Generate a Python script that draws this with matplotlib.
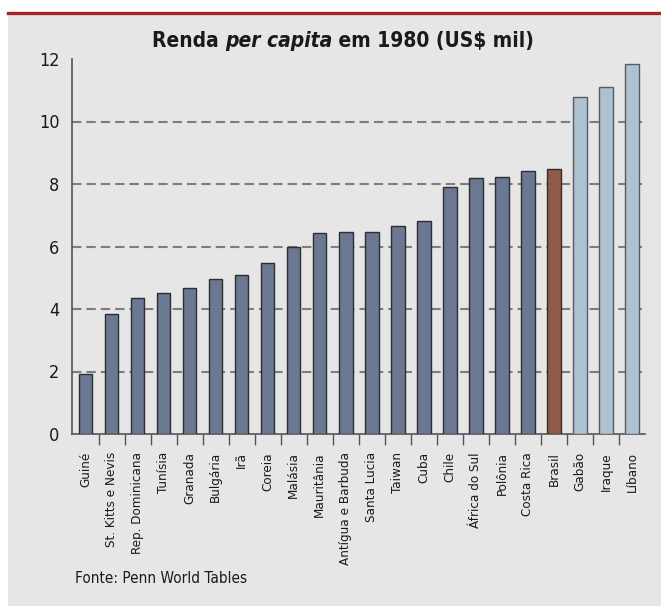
import matplotlib
matplotlib.use("Agg")
import matplotlib.pyplot as plt
from matplotlib.patches import Rectangle
from matplotlib.lines import Line2D
import numpy as np

# -- DATA -------------------------------------------------------------------------
countries = ["Guiné", "St. Kitts e Nevis", "Rep. Dominicana", "Tunísia", "Granada",
             "Bulgária", "Irã", "Coreia", "Malásia", "Mauritânia", "Antígua e Barbuda",
             "Santa Lucia", "Taiwan", "Cuba", "Chile", "África do Sul", "Polônia",
             "Costa Rica", "Brasil", "Gabão", "Iraque", "Líbano"]
income = [1.91, 3.83, 4.36, 4.50, 4.67, 4.97, 5.08, 5.47, 5.99, 6.43, 6.45,
          6.48, 6.67, 6.82, 7.90, 8.19, 8.22, 8.43, 8.49, 10.79, 11.12, 11.83]
# group: 0 = regular, 1 = Brasil, 2 = top three
group = [0] * 18 + [1] + [2, 2, 2]
yticks = [0, 2, 4, 6, 8, 10, 12]
gridlines = [2, 4, 6, 8, 10]

# -- STYLE ------------------------------------------------------------------------
plt.rcParams['font.family'] = ['DejaVu Sans']
plt.rcParams['font.stretch'] = 'condensed'
bg = "#e6e6e6"
fills = {0: "#6a7891", 1: "#8f5a47", 2: "#adc1d1"}
edges = {0: "#2e2e2e", 1: "#2e2e2e", 2: "#5a5a5a"}

W, H = 661, 606
fig = plt.figure(figsize=(W / 100, H / 100), dpi=100)
fig.patch.set_facecolor("white")

# gray panel and red rule on top
fig.patches.append(Rectangle((8 / W, 0), 1, 1 - 15 / H, transform=fig.transFigure,
                             facecolor=bg, edgecolor="none", zorder=-5))
fig.lines.append(Line2D([8 / W, 1], [1 - 13 / H, 1 - 13 / H], transform=fig.transFigure,
                        color="#a8232b", lw=2.4, zorder=-4))

ax = fig.add_axes([72 / W, 1 - 434 / H, (645 - 72) / W, (434 - 59) / H])
ax.set_facecolor(bg)

x = np.arange(len(countries))
ax.bar(x, income, width=0.52,
       color=[fills[g] for g in group],
       edgecolor=[edges[g] for g in group], linewidth=1.0, zorder=3)

for g in gridlines:
    ax.axhline(g, color="#7d7d7d", lw=1.5, linestyle=(0, (4.5, 2.4)), zorder=1)

ax.set_xlim(-0.52, len(countries) - 0.5)
ax.set_ylim(0, 12)
ax.set_yticks(yticks)
ax.set_yticklabels([str(t) for t in yticks], fontsize=13, color="#1a1a1a")
ax.tick_params(axis="y", length=0, pad=9)

ax.set_xticks(x)
ax.set_xticklabels(countries, rotation=90, fontsize=9.6, color="#1a1a1a", va="top")
ax.tick_params(axis="x", which="major", length=0, pad=13)
ax.set_xticks(x[:-1] + 0.5, minor=True)
ax.tick_params(axis="x", which="minor", length=8, width=1, color="#555555")

for s in ["top", "right"]:
    ax.spines[s].set_visible(False)
for s in ["left", "bottom"]:
    ax.spines[s].set_color("#555555")
    ax.spines[s].set_linewidth(1.2)

# title with italic part
renderer = fig.canvas.get_renderer()
parts = [("Renda ", "normal"), ("per capita", "italic"), (" em 1980 (US\\$ mil)", "normal")]
texts = []
for s, st in parts:
    texts.append(fig.text(0, 1 - 47 / H, s, fontsize=15, fontweight="bold", style=st,
                          color="#1a1a1a", va="baseline", ha="left"))
widths = [t.get_window_extent(renderer).width for t in texts]
xpos = 343 - sum(widths) / 2
for t, w in zip(texts, widths):
    t.set_x(xpos / W)
    xpos += w

fig.text(75 / W, 1 - 583 / H, "Fonte: Penn World Tables", fontsize=11,
         color="#1a1a1a", va="baseline", ha="left")

fig.savefig("out.png", dpi=100, facecolor=fig.get_facecolor())
